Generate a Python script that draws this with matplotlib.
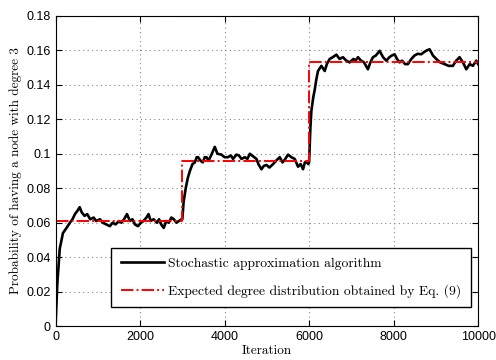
import numpy as np
import matplotlib
matplotlib.use("Agg")
import matplotlib.pyplot as plt

# stochastic approximation curve
iter_x = [0, 40, 100, 175, 260, 340, 400, 459, 520, 572, 620, 686, 750, 820, 900, 960,
          1050, 1120, 1200, 1286, 1350, 1420, 1500, 1560, 1620, 1690, 1760, 1820, 1880, 1950,
          2020, 2080, 2150, 2200, 2250, 2320, 2400, 2450, 2500, 2560, 2620, 2680, 2740, 2800,
          2860, 2920, 2980, 3000,
          3030, 3080, 3130, 3178, 3240, 3296, 3340, 3374, 3430, 3485, 3530, 3572, 3620, 3680,
          3768, 3830, 3924, 4000, 4076, 4150, 4200, 4281, 4340, 4400, 4480, 4540, 4596, 4650,
          4700, 4754, 4800, 4872, 4930, 4991, 5060, 5147, 5220, 5305, 5370, 5423, 5501, 5580,
          5660, 5738, 5800, 5856, 5900, 5936, 5980, 6000,
          6030, 6054, 6100, 6132, 6170, 6210, 6291, 6369, 6420, 6487, 6560, 6645, 6720, 6801,
          6880, 6960, 7050, 7100, 7156, 7230, 7300, 7392, 7450, 7511, 7580, 7669, 7750, 7827,
          7900, 7960, 8024, 8080, 8142, 8200, 8270, 8338, 8420, 8496, 8570, 8655, 8720, 8790,
          8851, 8930, 9009, 9100, 9206, 9300, 9402, 9480, 9560, 9640, 9719, 9800, 9875, 9955,
          10000]
prob_y = [0.0, 0.024, 0.045, 0.054, 0.057, 0.060, 0.062, 0.065, 0.067, 0.069, 0.066, 0.064,
          0.065, 0.062, 0.063, 0.061, 0.062, 0.060, 0.059, 0.058, 0.060, 0.059, 0.061, 0.060,
          0.062, 0.065, 0.061, 0.062, 0.059, 0.058, 0.060, 0.061, 0.063, 0.065, 0.061, 0.062,
          0.060, 0.062, 0.059, 0.057, 0.061, 0.060, 0.063, 0.062, 0.060, 0.061, 0.062, 0.062,
          0.072, 0.080, 0.086, 0.090, 0.094, 0.095, 0.098, 0.098, 0.096, 0.095, 0.098, 0.098,
          0.096, 0.099, 0.104, 0.100, 0.0995, 0.098, 0.098, 0.099, 0.097, 0.0995, 0.099, 0.097,
          0.098, 0.097, 0.100, 0.099, 0.098, 0.097, 0.094, 0.091, 0.093, 0.0935, 0.092, 0.094,
          0.096, 0.098, 0.095, 0.0965, 0.0995, 0.098, 0.097, 0.0925, 0.094, 0.091, 0.095,
          0.0955, 0.094, 0.095,
          0.115, 0.125, 0.133, 0.137, 0.143, 0.148, 0.151, 0.148, 0.152, 0.155, 0.156, 0.1575,
          0.155, 0.156, 0.154, 0.153, 0.155, 0.154, 0.156, 0.154, 0.153, 0.149, 0.153, 0.156,
          0.157, 0.1597, 0.156, 0.154, 0.156, 0.157, 0.1577, 0.155, 0.153, 0.154, 0.152, 0.152,
          0.155, 0.157, 0.158, 0.1577, 0.159, 0.160, 0.1606, 0.157, 0.155, 0.153, 0.152, 0.151,
          0.151, 0.154, 0.156, 0.153, 0.149, 0.152, 0.151, 0.154, 0.152]

# expected degree distribution (step levels)
step_x = [0, 3000, 6000, 10000]
step_y = [0.061, 0.096, 0.153, 0.153]

fig = plt.figure(figsize=(4.96, 3.6), dpi=100)
ax = fig.add_axes([0.112, 0.094, 0.852, 0.862])

ax.plot(iter_x, prob_y, color="black", lw=1.9, label="Stochastic approximation algorithm")
ax.step(step_x, step_y, where="post", color="red", lw=1.4, linestyle="-.",
        label="Expected degree distribution obtained by Eq. (9)")

ax.set_xlim(0, 10000)
ax.set_ylim(0, 0.18)
ax.set_xticks(np.arange(0, 10001, 2000))
ax.set_yticks(np.arange(0, 0.181, 0.02))
ax.set_yticklabels(["0", "0.02", "0.04", "0.06", "0.08", "0.1", "0.12", "0.14", "0.16", "0.18"])
ax.grid(True, linestyle=(0, (1, 3)), color="#888888", lw=0.8)
ax.tick_params(direction="in", top=True, right=True, length=4, labelsize=9)
for lab in ax.get_xticklabels() + ax.get_yticklabels():
    lab.set_fontfamily("Liberation Sans")

ax.set_xlabel("Iteration", fontname="cmr10", fontsize=9.5, labelpad=1)
ax.set_ylabel("Probability of having a node with degree 3", fontname="cmr10", fontsize=9.5, labelpad=3)

leg = ax.legend(loc="lower right", bbox_to_anchor=(0.983, 0.061), borderaxespad=0,
                prop={"family": "cmr10", "size": 9.8},
                fancybox=False, edgecolor="black", framealpha=1, handlelength=3.2,
                handletextpad=0.3, labelspacing=1.05, borderpad=0.7)
leg.get_frame().set_linewidth(1.0)

fig.savefig("out.png", dpi=100)
